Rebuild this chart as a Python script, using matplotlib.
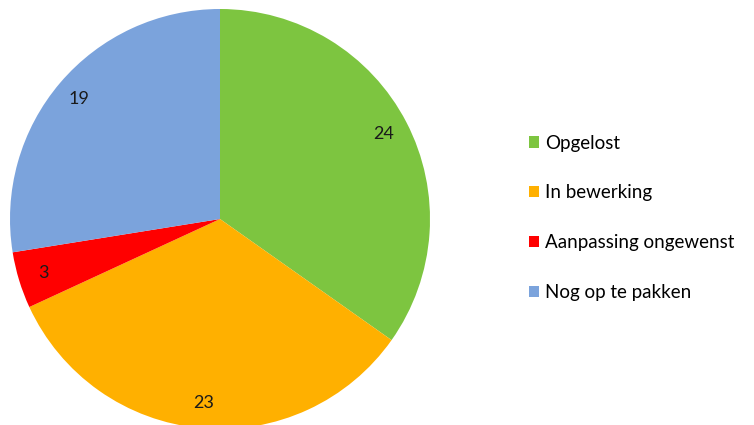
import matplotlib.pyplot as plt

labels = ['Opgelost', 'In bewerking', 'Aanpassing ongewenst', 'Nog op te pakken']
values = [24, 23, 3, 19]
colors = ['#7DC540', '#FFB000', '#FF0000', '#7BA3DC']

plt.rcParams['font.family'] = ['Lato', 'DejaVu Sans']

W, H = 754, 425
fig = plt.figure(figsize=(W / 100, H / 100), dpi=100)
ax = fig.add_axes([0, 0, 1, 1])

R = 210.0
cx, cy = 220.0, 219.0
total = sum(values)
wedges, texts, autotexts = ax.pie(values, colors=colors, startangle=90, counterclock=False,
                                  radius=1.0, autopct=lambda p: f"{round(p * total / 100)}",
                                  pctdistance=0.88,
                                  textprops={'fontsize': 13, 'color': '#1a1a1a'})
ax.set_aspect('equal')
ax.set_xlim(-cx / R, (W - cx) / R)
ax.set_ylim((cy - H) / R, cy / R)
ax.axis('off')

fig.legend(wedges, labels, loc='upper left', bbox_to_anchor=(521 / W, 1 - 127 / H),
           frameon=False, fontsize=13.5, handlelength=0.55, handleheight=0.55,
           handletextpad=0.35, labelspacing=1.75, borderaxespad=0)

fig.savefig('out.png', dpi=100)
